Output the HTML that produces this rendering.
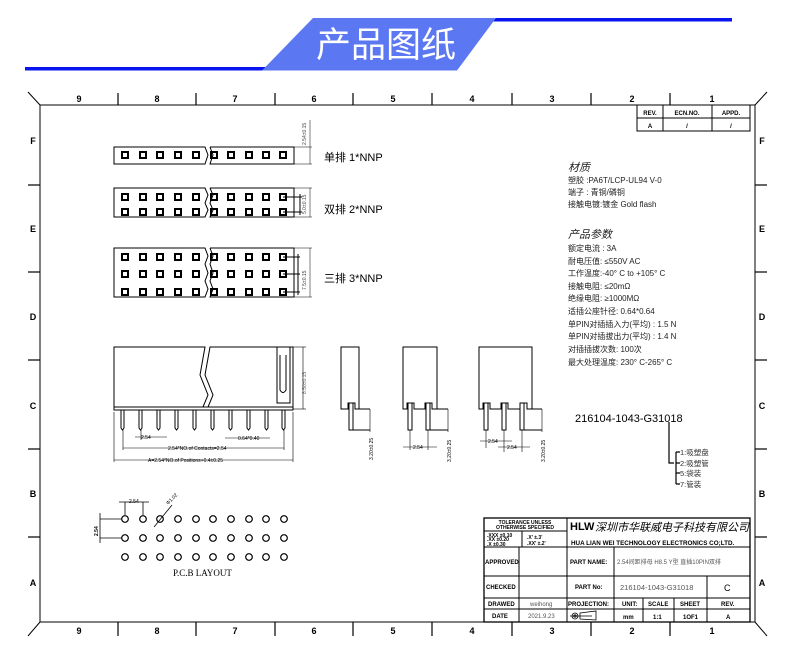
<!DOCTYPE html>
<html><head><meta charset="utf-8"><style>
body{margin:0;background:#fff}
svg{display:block}
text{font-family:"Liberation Sans","Noto Sans CJK SC",sans-serif}
.s{font-family:"Liberation Serif","Noto Serif CJK SC",serif}
</style></head><body>
<svg width="790" height="663" viewBox="0 0 790 663" xmlns="http://www.w3.org/2000/svg">
<defs>
<g id="r1">
<rect x="122" y="0" width="6" height="6"/><rect x="140" y="0" width="6" height="6"/><rect x="157" y="0" width="6" height="6"/><rect x="175" y="0" width="6" height="6"/><rect x="193" y="0" width="6" height="6"/>
<rect x="211" y="0" width="6" height="6"/><rect x="228" y="0" width="6" height="6"/><rect x="246" y="0" width="6" height="6"/><rect x="263" y="0" width="6" height="6"/><rect x="280" y="0" width="6" height="6"/>
</g>
<g id="pr">
<circle cx="125" cy="0" r="3.3"/><circle cx="143" cy="0" r="3.3"/><circle cx="160" cy="0" r="3.3"/><circle cx="178" cy="0" r="3.3"/><circle cx="196" cy="0" r="3.3"/><circle cx="213" cy="0" r="3.3"/><circle cx="231" cy="0" r="3.3"/><circle cx="249" cy="0" r="3.3"/><circle cx="266" cy="0" r="3.3"/><circle cx="284" cy="0" r="3.3"/>
</g>
<g id="pin"><path d="M121 410 V428 L122.5 430 L124 428 V410"/></g>
</defs>
<!-- header -->
<rect x="25" y="67" width="240" height="3.5" fill="#0a14f0"/>
<rect x="492" y="18" width="240" height="3.5" fill="#0a14f0"/>
<polygon points="262,70.5 313,18 496,18 457,70.5" fill="#5b78f2"/>
<text x="386" y="57" font-size="35" fill="#fff" text-anchor="middle" font-family="Noto Sans CJK SC,sans-serif">产品图纸</text>

<g stroke="#000" fill="none" stroke-width="1">
<rect x="40" y="105" width="715" height="517"/>
<line x1="28" y1="92" x2="40" y2="105"/><line x1="767" y1="92" x2="755" y2="105"/>
<line x1="28" y1="636" x2="40" y2="622"/><line x1="767" y1="636" x2="755" y2="622"/>
<g stroke-width="1.2">
<line x1="118" y1="93" x2="118" y2="105"/><line x1="196" y1="93" x2="196" y2="105"/><line x1="275" y1="93" x2="275" y2="105"/><line x1="353" y1="93" x2="353" y2="105"/><line x1="432" y1="93" x2="432" y2="105"/><line x1="512" y1="93" x2="512" y2="105"/><line x1="591" y1="93" x2="591" y2="105"/><line x1="670" y1="93" x2="670" y2="105"/>
<line x1="118" y1="622" x2="118" y2="636"/><line x1="196" y1="622" x2="196" y2="636"/><line x1="275" y1="622" x2="275" y2="636"/><line x1="353" y1="622" x2="353" y2="636"/><line x1="432" y1="622" x2="432" y2="636"/><line x1="512" y1="622" x2="512" y2="636"/><line x1="591" y1="622" x2="591" y2="636"/><line x1="670" y1="622" x2="670" y2="636"/>
<line x1="28" y1="185" x2="40" y2="185"/><line x1="28" y1="272" x2="40" y2="272"/><line x1="28" y1="360" x2="40" y2="360"/><line x1="28" y1="449" x2="40" y2="449"/><line x1="28" y1="537" x2="40" y2="537"/>
<line x1="755" y1="185" x2="767" y2="185"/><line x1="755" y1="272" x2="767" y2="272"/><line x1="755" y1="360" x2="767" y2="360"/><line x1="755" y1="449" x2="767" y2="449"/><line x1="755" y1="537" x2="767" y2="537"/>
</g>
<rect x="637" y="105" width="113" height="26"/><line x1="637" y1="118" x2="750" y2="118"/><line x1="663" y1="105" x2="663" y2="131"/><line x1="712" y1="105" x2="712" y2="131"/>
</g>
<g font-size="9" font-weight="bold" text-anchor="middle">
<text x="79" y="102">9</text><text x="157" y="102">8</text><text x="235" y="102">7</text><text x="314" y="102">6</text><text x="393" y="102">5</text><text x="472" y="102">4</text><text x="552" y="102">3</text><text x="632" y="102">2</text><text x="712" y="102">1</text>
<text x="79" y="634">9</text><text x="157" y="634">8</text><text x="235" y="634">7</text><text x="314" y="634">6</text><text x="393" y="634">5</text><text x="472" y="634">4</text><text x="552" y="634">3</text><text x="632" y="634">2</text><text x="712" y="634">1</text>
<text x="33" y="144">F</text><text x="33" y="232">E</text><text x="33" y="320">D</text><text x="33" y="409">C</text><text x="33" y="497">B</text><text x="33" y="586">A</text>
<text x="762" y="144">F</text><text x="762" y="232">E</text><text x="762" y="320">D</text><text x="762" y="409">C</text><text x="762" y="497">B</text><text x="762" y="586">A</text>
</g>
<g font-size="6" font-weight="bold" text-anchor="middle">
<text x="650" y="115">REV.</text><text x="687" y="115">ECN.NO.</text><text x="731" y="115">APPD.</text>
<text x="650" y="128">A</text><text x="687" y="128">/</text><text x="731" y="128">/</text>
</g>

<!-- top views -->
<g stroke="#000" fill="none" stroke-width="1">
<path d="M114 147 H205 l3 8 -3 9 H114 Z"/><path d="M210 147 H294 V164 H210 l3-9 -3-8"/>
<path d="M114 188 H205 l3 7 -3 8 3 7 -3 7 H114 Z"/><path d="M210 188 H294 V217 H210 l3-7 -3-7 3-8 -3-7"/>
<path d="M114 248 H205 l3 8 -3 8 3 9 -3 8 3 8 -3 8 H114 Z"/><path d="M210 248 H294 V297 H210 l3-8 -3-8 3-8 -3-9 3-8 -3-8"/>
<line x1="294" y1="147" x2="312" y2="147" stroke-width="0.5"/><line x1="294" y1="164" x2="312" y2="164" stroke-width="0.5"/><line x1="310" y1="120" x2="310" y2="164" stroke-width="0.5"/>
<line x1="294" y1="188" x2="312" y2="188" stroke-width="0.5"/><line x1="294" y1="217" x2="312" y2="217" stroke-width="0.5"/><line x1="310" y1="188" x2="310" y2="217" stroke-width="0.5"/>
<line x1="283" y1="197" x2="302" y2="197"/><line x1="283" y1="212" x2="302" y2="212"/><line x1="300" y1="194" x2="300" y2="215"/>
<line x1="294" y1="248" x2="312" y2="248" stroke-width="0.5"/><line x1="294" y1="297" x2="312" y2="297" stroke-width="0.5"/><line x1="310" y1="248" x2="310" y2="297" stroke-width="0.5"/>
<line x1="283" y1="257" x2="300" y2="257"/><line x1="283" y1="274" x2="300" y2="274"/><line x1="283" y1="292" x2="300" y2="292"/><line x1="298" y1="254" x2="298" y2="295"/>
</g>
<g fill="none" stroke="#000" stroke-width="2">
<use href="#r1" y="152"/><use href="#r1" y="194"/><use href="#r1" y="209"/><use href="#r1" y="254"/><use href="#r1" y="271"/><use href="#r1" y="289"/>
</g>
<g font-size="5" fill="#444">
<text transform="translate(306,145) rotate(-90)">2.54±0.15</text>
<text transform="translate(306,214) rotate(-90)">5.0±0.15</text>
<text transform="translate(306,290) rotate(-90)">7.5±0.15</text>
</g>
<g class="s" font-size="11">
<text x="324" y="161">单排 1*NNP</text><text x="324" y="213">双排 2*NNP</text><text x="324" y="282">三排 3*NNP</text>
</g>

<!-- side view -->
<g stroke="#000" fill="none" stroke-width="1">
<path d="M114 347 H205 L200 375 L208 395 L203 407 H114 Z"/>
<path d="M210 347 H293 V407 H208 L213 395 L205 375 Z"/>
<rect x="114" y="407" width="179" height="3"/>
<rect x="277" y="347" width="13" height="56"/>
<path d="M280 355 V390 Q283 395 286 390 V355"/>
<use href="#pin"/><use href="#pin" x="18"/><use href="#pin" x="36"/><use href="#pin" x="54"/><use href="#pin" x="72"/><use href="#pin" x="90"/><use href="#pin" x="108"/><use href="#pin" x="126"/><use href="#pin" x="144"/><use href="#pin" x="161"/>
<g stroke-width="0.6">
<line x1="290" y1="347" x2="306" y2="347"/><line x1="293" y1="409" x2="306" y2="409"/><line x1="303" y1="347" x2="303" y2="409"/>
<line x1="123" y1="430" x2="123" y2="450"/><line x1="141" y1="430" x2="141" y2="440"/><line x1="284" y1="430" x2="284" y2="450"/>
<line x1="135" y1="437" x2="167" y2="437"/><line x1="225" y1="438" x2="270" y2="438"/>
<line x1="123" y1="448" x2="284" y2="448"/><line x1="114" y1="412" x2="114" y2="462"/><line x1="293" y1="412" x2="293" y2="462"/><line x1="114" y1="460" x2="293" y2="460"/>
</g>
<path d="M341 347 H359 V409 H355 V403 H348 V409 H341 Z"/>
<path d="M359 409 H370"/><rect x="349" y="403" width="4" height="27"/><path d="M353 430 H370"/>
<path d="M403 347 H437 V409 H432 V403 H425 V409 H414 V403 H407 V409 H403 Z"/>
<rect x="408" y="403" width="4" height="27"/><rect x="426" y="403" width="4" height="27"/>
<path d="M437 409 H448 M430 430 H448"/>
<path d="M479 347 H532 V409 H527 V403 H520 V409 H508 V403 H501 V409 H490 V403 H483 V409 H479 Z"/>
<rect x="484" y="403" width="4" height="27"/><rect x="502" y="403" width="4" height="27"/><rect x="520" y="403" width="4" height="27"/>
<path d="M532 409 H542 M524 430 H542"/>
<g stroke-width="0.6">
<line x1="370" y1="409" x2="370" y2="432"/><line x1="448" y1="409" x2="448" y2="432"/><line x1="542" y1="409" x2="542" y2="432"/>
<line x1="410" y1="430" x2="410" y2="450"/><line x1="428" y1="430" x2="428" y2="450"/><line x1="403" y1="447" x2="437" y2="447"/>
<line x1="486" y1="430" x2="486" y2="448"/><line x1="504" y1="430" x2="504" y2="452"/><line x1="522" y1="430" x2="522" y2="452"/>
<line x1="480" y1="441" x2="512" y2="441"/><line x1="498" y1="447" x2="530" y2="447"/>
</g>
</g>
<g font-size="5" fill="#000">
<text x="141" y="439">2.54</text><text x="238" y="440">0.64*0.40</text>
<text x="168" y="450">2.54*NO.of Contacts=2.54</text>
<text x="148" y="462">A=2.54*NO.of Positions+0.4±0.25</text>
<text transform="translate(306,394) rotate(-90)" fill="#666">8.50±0.15</text>
<text transform="translate(373,460) rotate(-90)">3.20±0.25</text>
<text transform="translate(451,462) rotate(-90)">3.20±0.25</text>
<text transform="translate(545,462) rotate(-90)">3.20±0.25</text>
<text x="413" y="449">2.54</text><text x="488" y="443">2.54</text><text x="507" y="449">2.54</text>
</g>

<!-- PCB -->
<g fill="none" stroke="#000" stroke-width="1.2"><use href="#pr" y="519"/><use href="#pr" y="538"/><use href="#pr" y="557"/></g>
<g stroke="#000" stroke-width="0.8" fill="none">
<line x1="100" y1="519" x2="122" y2="519"/><line x1="100" y1="538" x2="122" y2="538"/><line x1="100" y1="513" x2="100" y2="543"/>
<line x1="119" y1="502" x2="149" y2="502"/><line x1="125" y1="502" x2="125" y2="515"/><line x1="143" y1="502" x2="143" y2="515"/>
<line x1="154" y1="527" x2="172" y2="505"/>
</g>
<g font-size="5"><text x="129" y="503">2.54</text><text transform="translate(168,505) rotate(-45)">Φ1.02</text><text transform="translate(98,536) rotate(-90)" font-weight="bold">2.54</text></g>
<text x="173" y="576" class="s" font-size="9">P.C.B LAYOUT</text>

<!-- specs -->
<g class="s" font-size="8" fill="#222">
<text x="568" y="171" font-size="11" font-style="italic">材质</text>
<text x="568" y="183">塑胶 :PA6T/LCP-UL94 V-0</text>
<text x="568" y="195">端子 : 青铜/磷铜</text>
<text x="568" y="207">接触电镀:镀金 Gold flash</text>
<text x="568" y="238" font-size="11" font-style="italic">产品参数</text>
<text x="568" y="251">额定电流 : 3A</text>
<text x="568" y="264">耐电压值: ≤550V AC</text>
<text x="568" y="276">工作温度:-40° C to +105° C</text>
<text x="568" y="289">接触电阻: ≤20mΩ</text>
<text x="568" y="301">绝缘电阻: ≥1000MΩ</text>
<text x="568" y="314">适插公座针径: 0.64*0.64</text>
<text x="568" y="327">单PIN对插插入力(平均) : 1.5 N</text>
<text x="568" y="339">单PIN对插拔出力(平均) : 1.4 N</text>
<text x="568" y="352">对插插拔次数: 100次</text>
<text x="568" y="365">最大处理温度: 230° C-265° C</text>
</g>
<text x="575" y="422" font-size="11">216104-1043-G31018</text>
<g stroke="#000" stroke-width="1.2" fill="none">
<path d="M669 422 V463 H674"/><path d="M676 452 V484 M676 452 H680 M676 463 H680 M676 473 H680 M676 484 H680"/>
</g>
<g class="s" font-size="7.5" fill="#333">
<text x="680" y="455">1:吸塑盘</text><text x="680" y="466">2:吸塑管</text><text x="680" y="476">5:袋装</text><text x="680" y="487">7:管装</text>
</g>

<!-- title block -->
<g stroke="#000" fill="none" stroke-width="1">
<rect x="484" y="518" width="266" height="104" stroke-width="1.3"/>
<line x1="567" y1="518" x2="567" y2="622"/>
<line x1="484" y1="547" x2="750" y2="547"/><line x1="484" y1="576" x2="750" y2="576"/><line x1="484" y1="598" x2="750" y2="598"/><line x1="484" y1="609" x2="750" y2="609"/>
<line x1="519" y1="547" x2="519" y2="622"/>
<line x1="484" y1="531" x2="567" y2="531"/><line x1="522" y1="531" x2="522" y2="547"/>
<line x1="614" y1="547" x2="614" y2="622"/>
<line x1="643" y1="598" x2="643" y2="622"/><line x1="674" y1="598" x2="674" y2="622"/><line x1="707" y1="576" x2="707" y2="622"/>
</g>
<g font-size="5" font-weight="bold" text-anchor="middle">
<text x="525" y="524">TOLERANCE UNLESS</text><text x="525" y="529">OTHERWISE SPECIFIED</text>
</g>
<g font-size="5" font-weight="bold">
<text x="487" y="537">.XXX ±0.10</text><text x="487" y="541">.XX ±0.20</text><text x="487" y="546">.X ±0.30</text>
<text x="527" y="539">.X' ±.3'</text><text x="527" y="545">.XX' ±.2'</text>
</g>
<g font-size="6" font-weight="bold">
<text x="485" y="564">APPROVED</text><text x="486" y="589">CHECKED</text><text x="488" y="606">DRAWED</text><text x="492" y="618">DATE</text>
<text x="570" y="564">PART NAME:</text><text x="575" y="589">PART No:</text><text x="568" y="606">PROJECTION:</text>
<text x="622" y="606">UNIT:</text><text x="648" y="606">SCALE</text><text x="680" y="606">SHEET</text><text x="721" y="606">REV.</text>
<text x="623" y="619">mm</text><text x="653" y="619">1:1</text><text x="683" y="619">1OF1</text><text x="726" y="619">A</text>
<text x="571" y="545" font-size="6.3">HUA LIAN WEI TECHNOLOGY ELECTRONICS CO;LTD.</text>
</g>
<text x="570" y="530" font-size="11" font-weight="bold">HLW</text>
<text x="595" y="531" font-size="11" font-style="italic" font-family="Noto Sans CJK SC,sans-serif">深圳市华联威电子科技有限公司</text>
<g class="s" font-size="6" fill="#555">
<text x="617" y="564">2.54间距排母 H8.5 Y型 直插10PIN双排</text>
<text x="620" y="590" font-size="7.5">216104-1043-G31018</text>
<text x="530" y="606">weihong</text><text x="528" y="618">2021.9.23</text>
</g>
<text x="724" y="591" font-size="9">C</text>
<g stroke="#000" fill="none" stroke-width="0.8"><circle cx="575" cy="616" r="3"/><circle cx="575" cy="616" r="1.2"/><path d="M570 616 H592 M580 613 L596 611 V620 L580 619 Z"/></g>
</svg>
</body></html>
